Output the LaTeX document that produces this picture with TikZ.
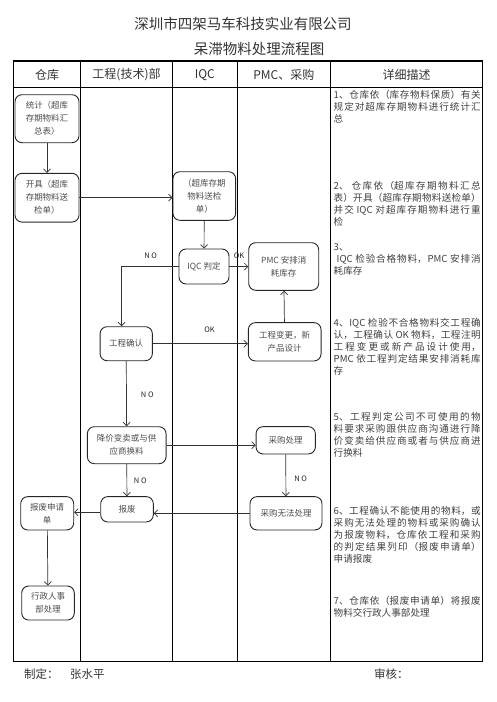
\documentclass[tikz,border=0pt]{standalone}
\usepackage{fontspec}
\setmainfont{Noto Sans CJK SC}
\XeTeXlinebreaklocale "zh"
\XeTeXlinebreakskip=0pt plus 2pt
\usetikzlibrary{arrows.meta}
\begin{document}
\begin{tikzpicture}[x=1pt,y=-1pt,
  box/.style={draw=black!85, line width=0.9pt, rounded corners=7pt, inner sep=0pt, font=\fontsize{8.5}{13}\selectfont, text=black!70, align=center},
  conn/.style={draw=black!80, line width=0.7pt, -{Straight Barb[length=3.5pt,width=7pt]}},
  lbl/.style={font=\fontsize{7.5}{9}\selectfont, text=black!85, inner sep=1pt},
  desc/.style={anchor=north west, inner sep=0pt, text width=147pt, align=justify, font=\fontsize{9.6}{12}\selectfont, text=black!75},
  head/.style={font=\fontsize{12}{14}\selectfont, text=black!80},
  grid/.style={line width=1.1pt, draw=black}
  ]
\useasboundingbox (0,0) rectangle (496,702);
% titles
\node[font=\fontsize{14.5}{16}\selectfont, text=black!80] (t1) at (243,24) {深圳市四架马车科技实业有限公司};
\node[font=\fontsize{14.5}{16}\selectfont, text=black!80] (t2) at (259,49) {呆滞物料处理流程图};
% table
\draw[grid] (13.3,61) rectangle (482.7,661.5);
\draw[grid] (13.3,87.7) -- (482.7,87.7);
\foreach \x in {80.7,172.3,237.3,330.3} \draw[grid] (\x,61) -- (\x,661.5);
\node[head] (h1) at (47,75) {仓库};
\node[head] (h2) at (126.5,75) {工程(技术)部};
\node[head] (h3) at (204.8,75) {IQC};
\node[head] (h4) at (283.8,75) {PMC、采购};
\node[head] (h5) at (406.5,75) {详细描述};
% boxes
\node[box, minimum width=64pt, minimum height=48pt] (b1) at (47,118.7) {统计（超库\\存期物料汇\\总表）};
\node[box, minimum width=64pt, minimum height=48.7pt] (b2) at (47,197.7) {开具（超库\\存期物料送\\检单）};
\node[box, minimum width=62.7pt, minimum height=48.6pt] (b3) at (204.3,196) {（超库存期\\物料送检\\单）};
\node[box, minimum width=50pt, minimum height=35pt] (iqc) at (204,266.5) {IQC 判定};
\node[box, minimum width=70pt, minimum height=47.6pt] (pmc) at (283.7,266.5) {PMC 安排消\\耗库存};
\node[box, minimum width=52.3pt, minimum height=34pt] (gcqr) at (126.2,343.7) {工程确认};
\node[box, minimum width=72.7pt, minimum height=38.3pt] (gcbg) at (284.7,341.8) {工程变更，新\\产品设计};
\node[box, minimum width=78.7pt, minimum height=37pt] (jj) at (126.7,445.2) {降价变卖或与供\\应商换料};
\node[box, minimum width=59.3pt, minimum height=27.3pt] (cg) at (285.7,440.3) {采购处理};
\node[box, minimum width=72pt, minimum height=33.3pt] (cgwf) at (286,513.3) {采购无法处理};
\node[box, minimum width=52.6pt, minimum height=25.3pt] (bf) at (127,509.3) {报废};
\node[box, minimum width=53pt, minimum height=33.3pt] (bfsq) at (47.2,513.3) {报废申请\\单};
\node[box, minimum width=52.6pt, minimum height=34pt] (xz) at (48,603) {行政人事\\部处理};
% connectors
\draw[conn] (b1) -- (b2);
\draw[conn] (b2.east) -- (b2.east -| b3.west);
\draw[conn] (b3) -- (iqc);
\draw[conn] (iqc.east) -- (iqc.east -| pmc.west);
\draw[conn] (iqc.west) -| ([xshift=-4.5pt]gcqr.north);
\draw[conn] (gcqr.east) -- (gcqr.east -| gcbg.west);
\draw[conn] (gcbg) -- (pmc);
\draw[conn] (gcqr) -- (jj);
\draw[conn] (jj.east) -- (jj.east -| cg.west);
\draw[conn] (cg) -- (cgwf);
\draw[conn] (jj) -- (bf);
\draw[conn] (cgwf.west) -- (cgwf.west -| bf.east);
\draw[conn] ([yshift=-3pt]bf.west) -- ([yshift=-3pt]bf.west -| bfsq.east);
\draw[conn] (bfsq) -- (xz);
% labels
\node[lbl] (no1) at (150.7,255.7) {N O};
\node[lbl] (ok1) at (239,255.7) {OK};
\node[lbl, fill=white, minimum width=26pt, text depth=9pt] (ok2) at (209.5,334) {OK};
\node[lbl] (no2) at (147.3,395) {N O};
\node[lbl] (no3) at (140.3,481) {N O};
\node[lbl] (no4) at (300.7,478.3) {N O};
% descriptions
\node[desc] (d1) at (333.5,90.5) {1、仓库依（库存物料保质）有关\linebreak 规定对超库存期物料进行统计汇\linebreak 总};
\node[desc] (d2) at (333.5,181) {2、 仓库依（超库存期物料汇总\linebreak 表）开具（超库存期物料送检单）\linebreak 并交 IQC 对超库存期物料进行重\linebreak 检};
\node[desc] (d3) at (333.5,243) {3、\\\hspace*{3pt}IQC 检验合格物料，PMC 安排消\linebreak 耗库存};
\node[desc] (d4) at (333.5,317.8) {4、IQC 检验不合格物料交工程确\linebreak 认，工程确认 OK 物料，工程注明\linebreak 工程变更或新产品设计使用，\linebreak PMC 依工程判定结果安排消耗库\linebreak 存};
\node[desc] (d5) at (333.5,411.8) {5、工程判定公司不可使用的物\linebreak 料要求采购跟供应商沟通进行降\linebreak 价变卖给供应商或者与供应商进\linebreak 行换料};
\node[desc] (d6) at (333.5,506.2) {6、工程确认不能使用的物料，或\linebreak 采购无法处理的物料或采购确认\linebreak 为报废物料，仓库依工程和采购\linebreak 的判定结果列印（报废申请单）\linebreak 申请报废};
\node[desc] (d7) at (333.5,596.5) {7、仓库依（报废申请单）将报废\linebreak 物料交行政人事部处理};
% footer
\node[anchor=west, font=\fontsize{11.5}{13}\selectfont, text=black!80, inner sep=0pt] (f1) at (24,674) {制定：};
\node[anchor=west, font=\fontsize{11.5}{13}\selectfont, text=black!80, inner sep=0pt] (f2) at (70,674) {张水平};
\node[anchor=west, font=\fontsize{11.5}{13}\selectfont, text=black!80, inner sep=0pt] (f3) at (374,674) {审核：};
\end{tikzpicture}
\end{document}
